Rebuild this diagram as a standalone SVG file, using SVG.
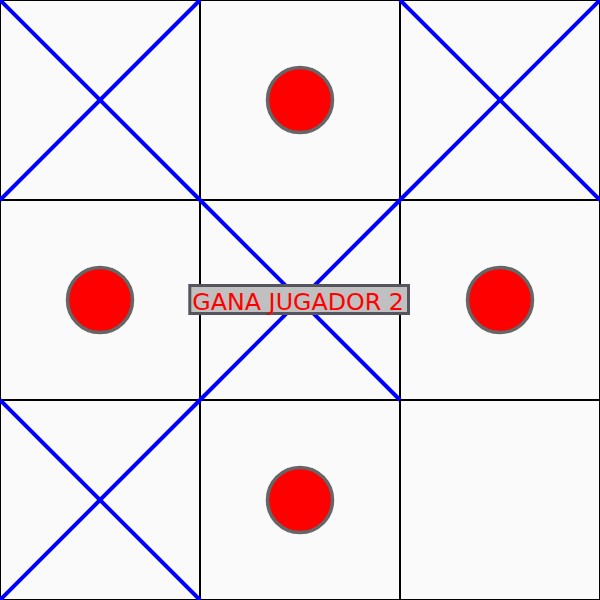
<svg xmlns="http://www.w3.org/2000/svg" width="600" height="600" viewBox="0 0 600 600">
<style>
.cell{fill:#fafafa;stroke:#000;stroke-width:2}
.x{stroke:#0000ff;stroke-width:4;stroke-linecap:butt}
.o{fill:#ff0000;stroke:#666;stroke-width:3.5}
.lbl{fill:#ff0000;font-family:"DejaVu Sans",sans-serif;font-size:23px}
</style>
<rect width="600" height="600" fill="#fafafa"/>
<g id="board">
<rect class="cell" x="0" y="0" width="200" height="200"/>
<rect class="cell" x="200" y="0" width="200" height="200"/>
<rect class="cell" x="400" y="0" width="200" height="200"/>
<rect class="cell" x="0" y="200" width="200" height="200"/>
<rect class="cell" x="200" y="200" width="200" height="200"/>
<rect class="cell" x="400" y="200" width="200" height="200"/>
<rect class="cell" x="0" y="400" width="200" height="200"/>
<rect class="cell" x="200" y="400" width="200" height="200"/>
<rect class="cell" x="400" y="400" width="200" height="200"/>
</g>
<g id="x00"><line class="x" x1="0" y1="0" x2="200" y2="200"/><line class="x" x1="200" y1="0" x2="0" y2="200"/></g>
<g id="x20"><line class="x" x1="400" y1="0" x2="600" y2="200"/><line class="x" x1="600" y1="0" x2="400" y2="200"/></g>
<g id="x11"><line class="x" x1="200" y1="200" x2="400" y2="400"/><line class="x" x1="400" y1="200" x2="200" y2="400"/></g>
<g id="x02"><line class="x" x1="0" y1="400" x2="200" y2="600"/><line class="x" x1="200" y1="400" x2="0" y2="600"/></g>
<g id="o10"><circle class="o" cx="300" cy="100" r="32.5"/></g>
<g id="o01"><circle class="o" cx="100" cy="300" r="32.5"/></g>
<g id="o21"><circle class="o" cx="500" cy="300" r="32.5"/></g>
<g id="o12"><circle class="o" cx="300" cy="500" r="32.5"/></g>
<g id="label">
<rect x="189.8" y="285.5" width="218.7" height="28" fill="#c0c0c0" stroke="#555560" stroke-width="3"/>
<text class="lbl" x="192.3" y="309.5" textLength="211.7" lengthAdjust="spacingAndGlyphs">GANA JUGADOR 2</text>
</g>
</svg>
